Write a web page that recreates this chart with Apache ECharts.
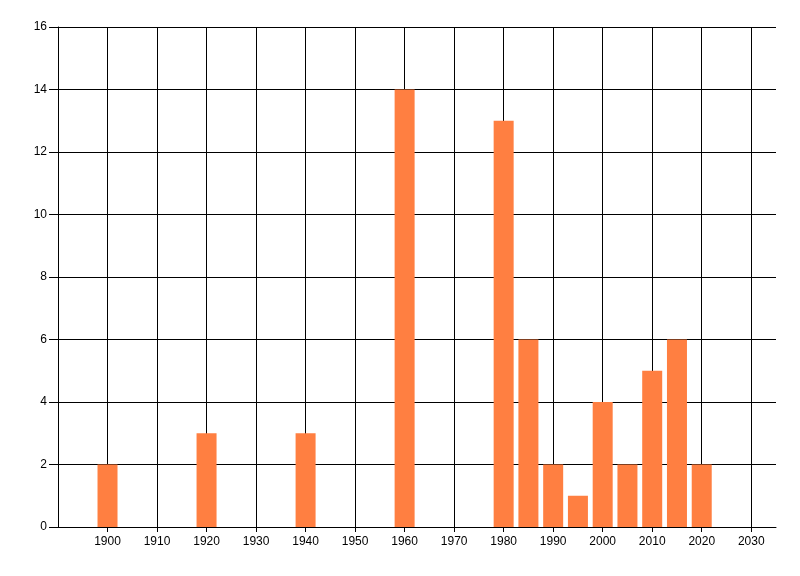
<!DOCTYPE html>
<html>
<head>
<meta charset="utf-8">
<script src="https://cdn.jsdelivr.net/npm/echarts@6/dist/echarts.min.js"></script>
<style>html,body{margin:0;padding:0;background:#fff;}#c{width:800px;height:576px;}</style>
</head>
<body>
<div id="c"></div>
<script>
const years = [1900, 1920, 1940, 1960, 1980, 1985, 1990, 1995, 2000, 2005, 2010, 2015, 2020];
const counts = [2, 3, 3, 14, 13, 6, 2, 1, 4, 2, 5, 6, 2];
const xTicks = [1900, 1910, 1920, 1930, 1940, 1950, 1960, 1970, 1980, 1990, 2000, 2010, 2020, 2030];
const xLabels = [1900, 1910, 1920, 1930, 1940, 1950, 1960, 1970, 1980, 1990, 2000, 2010, 2020, 2030];

const chart = echarts.init(document.getElementById('c'), null, {renderer: 'canvas'});
const font = '"Liberation Sans Narrow", "Liberation Sans", Arial, sans-serif';
chart.setOption({
  animation: false,
  backgroundColor: '#ffffff',
  grid: {left: 58, right: 24, top: 27, bottom: 49, containLabel: false},
  xAxis: {
    type: 'value', min: 1890, max: 2035, interval: 10,
    axisLine: {show: true, lineStyle: {color: '#000', width: 1}},
    axisTick: {show: true, length: 5, customValues: xTicks, lineStyle: {color: '#000'}},
    axisLabel: {customValues: xLabels, formatter: v => String(v), color: '#000', fontFamily: font, fontSize: 12, margin: 9},
    splitLine: {show: true, showMinLine: true, showMaxLine: true, lineStyle: {color: '#000', width: 1}}
  },
  yAxis: {
    type: 'value', min: 0, max: 16, interval: 2,
    axisLine: {show: true, lineStyle: {color: '#000', width: 1}},
    axisTick: {show: true, length: 9, lineStyle: {color: '#000'}},
    axisLabel: {formatter: v => String(v), color: '#000', fontFamily: font, fontSize: 12, margin: 11},
    splitLine: {show: true, lineStyle: {color: '#000', width: 1}}
  },
  series: [{
    type: 'bar',
    data: years.map((y, i) => [y, counts[i]]),
    barWidth: 20,
    itemStyle: {color: '#FF7F41'}
  }]
});
</script>
</body>
</html>
